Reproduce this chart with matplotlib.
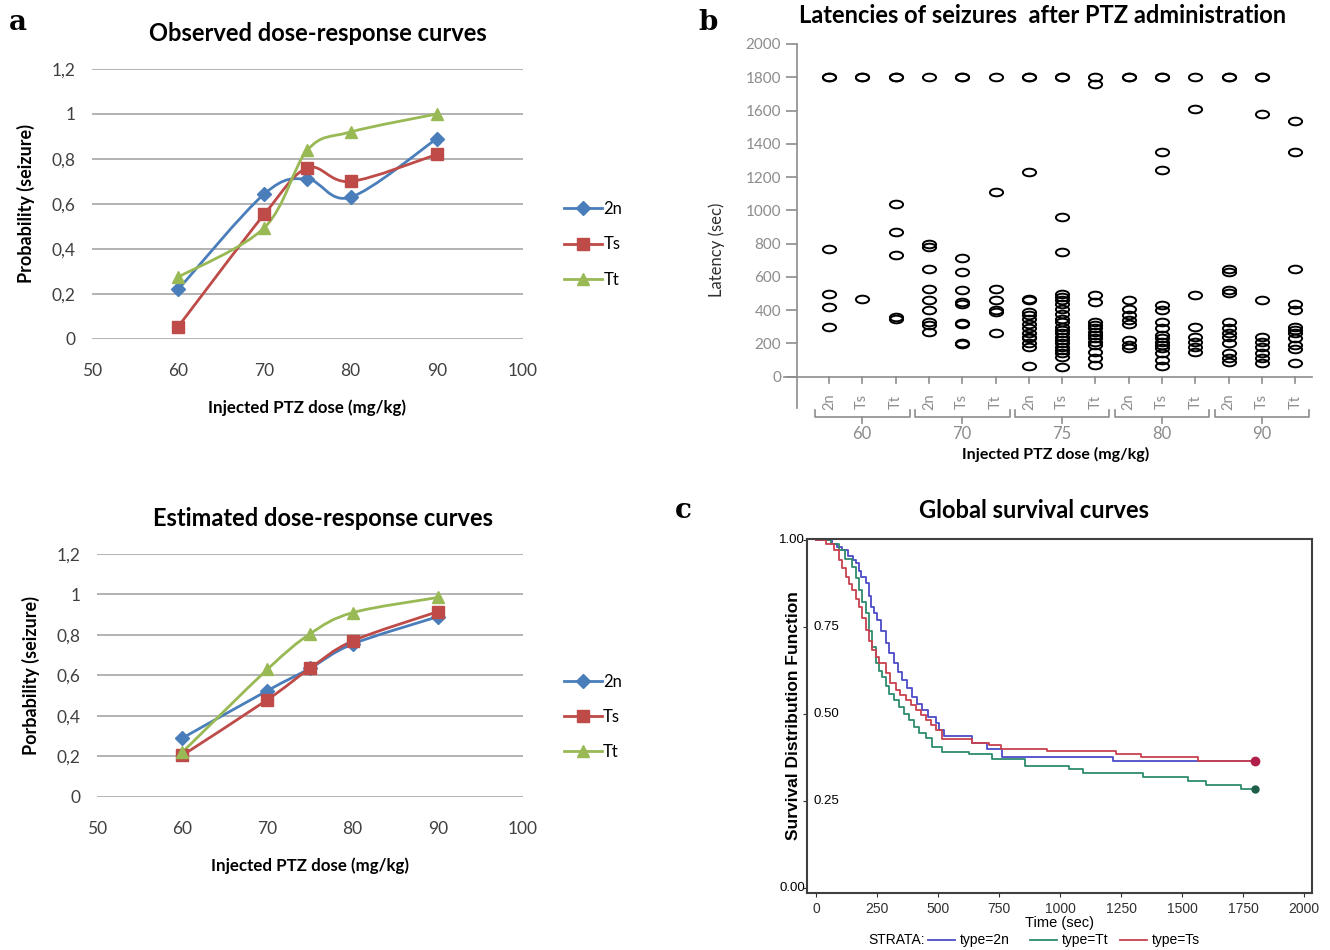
import matplotlib.pyplot as plt
import numpy as np
from matplotlib.path import Path
from matplotlib.patches import PathPatch
from matplotlib.lines import Line2D
from matplotlib.transforms import Affine2D

plt.rcParams['font.family'] = ['Lato', 'DejaVu Sans']

# ---- panel a data -------------------------------------------------------
doses = [60, 70, 75, 80, 90]
types = ["2n", "Ts", "Tt"]

obs_2n = [0.22, 0.645, 0.71, 0.63, 0.89]
obs_ts = [0.055, 0.555, 0.76, 0.70, 0.82]
obs_tt = [0.275, 0.495, 0.84, 0.92, 1.0]

est_2n = [0.29, 0.525, 0.635, 0.755, 0.89]
est_ts = [0.205, 0.48, 0.635, 0.77, 0.915]
est_tt = [0.22, 0.63, 0.805, 0.91, 0.985]

# ---- panel b data: latencies (sec), per dose: [2n, Ts, Tt] --------------
lat_60 = [[1800, 1800, 770, 500, 420, 300],
          [1800, 1800, 470],
          [1800, 1800, 1040, 870, 730, 360, 350]]
lat_70 = [[1800, 800, 780, 650, 530, 460, 400, 330, 310, 270],
          [1800, 1800, 715, 630, 520, 450, 440, 325, 315, 205, 195],
          [1800, 1110, 530, 460, 400, 390, 265]]
lat_75 = [[1800, 1800, 1230, 470, 460, 390, 370, 350, 320, 290, 260, 240,
           230, 200, 180, 65],
          [1800, 1800, 960, 750, 500, 480, 460, 440, 410, 380, 350, 330, 300,
           280, 260, 240, 220, 200, 180, 160, 140, 120, 60],
          [1800, 1760, 490, 450, 330, 310, 290, 270, 250, 230, 210, 190, 150,
           110, 70]]
lat_80 = [[1800, 1800, 460, 410, 370, 340, 320, 220, 190, 175],
          [1800, 1800, 1350, 1240, 430, 400, 330, 290, 250, 230, 210, 190,
           170, 140, 100, 65],
          [1800, 1610, 490, 300, 240, 210, 180, 150]]
lat_90 = [[1800, 1800, 650, 630, 520, 505, 330, 290, 260, 240, 200, 140,
           115, 90],
          [1800, 1800, 1580, 460, 240, 210, 180, 140, 110, 80],
          [1540, 1350, 645, 440, 400, 300, 280, 260, 230, 190, 165, 85]]
latencies = [lat_60, lat_70, lat_75, lat_80, lat_90]

# ---- panel c data: Kaplan-Meier steps (time sec, survival) --------------
km_2n_t = [0, 65, 85, 107, 130, 150, 163, 175, 183, 203, 215, 224, 237, 250,
           265, 285, 300, 319, 335, 353, 372, 394, 412, 435, 460, 490, 505,
           523, 638, 700, 761, 1219, 1800]
km_2n_s = [1.0, 0.99, 0.98, 0.971, 0.955, 0.943, 0.933, 0.91, 0.895, 0.876,
           0.84, 0.808, 0.79, 0.77, 0.74, 0.703, 0.675, 0.646, 0.62, 0.598,
           0.575, 0.549, 0.53, 0.511, 0.492, 0.474, 0.455, 0.437, 0.416, 0.40,
           0.376, 0.366, 0.366]
km_ts_t = [0, 40, 74, 94, 108, 121, 135, 148, 162, 176, 190, 203, 216, 230,
           244, 258, 285, 305, 326, 345, 367, 390, 408, 430, 449, 470, 490,
           517, 640, 710, 760, 946, 1231, 1333, 1566, 1800]
km_ts_s = [1.0, 0.99, 0.971, 0.943, 0.92, 0.895, 0.875, 0.856, 0.83, 0.808,
           0.775, 0.742, 0.71, 0.684, 0.665, 0.646, 0.617, 0.59, 0.569, 0.555,
           0.54, 0.525, 0.511, 0.497, 0.483, 0.468, 0.454, 0.428, 0.418, 0.41,
           0.401, 0.395, 0.385, 0.377, 0.366, 0.366]
km_tt_t = [0, 60, 94, 120, 148, 162, 176, 190, 203, 216, 230, 244, 258, 271,
           285, 298, 320, 340, 360, 380, 400, 421, 449, 475, 517, 626, 721,
           858, 1035, 1096, 1341, 1525, 1600, 1743, 1800]
km_tt_s = [1.0, 0.99, 0.971, 0.945, 0.923, 0.89, 0.856, 0.823, 0.79, 0.74,
           0.693, 0.646, 0.625, 0.607, 0.582, 0.559, 0.54, 0.521, 0.50, 0.483,
           0.464, 0.445, 0.431, 0.406, 0.392, 0.386, 0.370, 0.351, 0.341,
           0.331, 0.318, 0.309, 0.296, 0.284, 0.284]

BLUE, RED, GREEN = "#4a7ebb", "#be4b48", "#98b954"
GRAY = "#8c8c8c"


def smooth_path(x, y):
    # Excel-like smoothed line: Catmull-Rom segments as cubic Bezier
    pts = np.column_stack([x, y]).astype(float)
    n = len(pts)
    verts, codes = [pts[0]], [Path.MOVETO]
    for i in range(n - 1):
        p0 = pts[max(i - 1, 0)]
        p1, p2 = pts[i], pts[i + 1]
        p3 = pts[min(i + 2, n - 1)]
        verts += [p1 + (p2 - p0) / 6, p2 - (p3 - p1) / 6, p2]
        codes += [Path.CURVE4] * 3
    return Path(verts, codes)


def dose_panel(ax, series, title, ylabel, leg_y, title_x):
    styles = [(BLUE, "D", 7), (RED, "s", 8.5), (GREEN, "^", 9)]
    handles = []
    for vals, (col, mk, ms), name in zip(series, styles, types):
        ax.add_patch(PathPatch(smooth_path(doses, vals), fill=False,
                               edgecolor=col, lw=2.0, zorder=3))
        ax.plot(doses, vals, ls="none", marker=mk, ms=ms, color=col, zorder=4)
        handles.append(Line2D([], [], color=col, lw=2.0, marker=mk, ms=ms))
    ax.set_xlim(50, 100)
    ax.set_ylim(0, 1.2)
    ax.set_xticks([50, 60, 70, 80, 90, 100])
    ax.set_yticks(np.arange(0, 1.21, 0.2))
    ax.set_yticklabels(["0", "0,2", "0,4", "0,6", "0,8", "1", "1,2"])
    ax.grid(axis="y", color="#a6a6a6", lw=1.2)
    ax.set_axisbelow(True)
    for s in ax.spines.values():
        s.set_visible(False)
    ax.tick_params(length=0, labelsize=12.5, colors="#404040")
    ax.tick_params(axis="x", pad=17)
    ax.tick_params(axis="y", pad=12)
    ax.set_title(title, fontsize=17, fontweight="bold", pad=20, x=title_x)
    ax.set_ylabel(ylabel, fontsize=13, fontweight="bold", labelpad=12)
    ax.set_xlabel("Injected PTZ dose (mg/kg)", fontsize=12.2,
                  fontweight="bold", labelpad=15)
    ax.legend(handles, types, loc="center left", bbox_to_anchor=(1.08, leg_y),
              frameon=False, fontsize=12, handlelength=2.3,
              handletextpad=0.05, labelspacing=1.15, borderaxespad=0)


fig = plt.figure(figsize=(13.3, 9.5), dpi=100)

ax1 = fig.add_axes([0.0692, 0.6432, 0.3240, 0.2842])
dose_panel(ax1, [obs_2n, obs_ts, obs_tt], "Observed dose-response curves",
           "Probability (seizure)", 0.35, 0.524)

ax2 = fig.add_axes([0.0729, 0.1611, 0.3203, 0.2558])
dose_panel(ax2, [est_2n, est_ts, est_tt], "Estimated dose-response curves",
           "Porbability (seizure)", 0.33, 0.53)

# ---- panel b -------------------------------------------------------------
axb = fig.add_axes([0.5992, 0.5705, 0.3873, 0.3832])
ellipse = Path.unit_circle().transformed(Affine2D().scale(1.0, 0.58))
for di, per_type in enumerate(latencies):
    for ti, vals in enumerate(per_type):
        xi = di * 3 + ti
        axb.plot([xi] * len(vals), vals, ls="none", marker=ellipse, ms=9.5,
                 mfc="none", mec="black", mew=1.4)
axb.set_xlim(-0.96, 14.5)
axb.set_ylim(-188, 2000)
axb.set_yticks(np.arange(0, 2001, 200))
for s in ["top", "right", "bottom"]:
    axb.spines[s].set_visible(False)
axb.spines["left"].set_color(GRAY)
axb.spines["left"].set_linewidth(1.2)
axb.set_xticks([])
axb.tick_params(axis="y", colors=GRAY, length=8, width=1.2, labelsize=11)
axb.axhline(0, xmin=-0.025, color=GRAY, lw=1.2, clip_on=False)
for di, d in enumerate(doses):
    for ti, t in enumerate(types):
        xi = di * 3 + ti
        axb.plot([xi, xi], [0, -40], color=GRAY, lw=1.2, clip_on=False)
        axb.text(xi, -150, t, rotation=90, ha="center", va="center",
                 color=GRAY, fontsize=10.5)
    x0, x1 = di * 3 - 0.42, di * 3 + 2.42
    xc = di * 3 + 1
    axb.plot([x0, x0, x1, x1], [-200, -240, -240, -200], color=GRAY, lw=1.2,
             clip_on=False)
    axb.plot([xc, xc], [-240, -280], color=GRAY, lw=1.2, clip_on=False)
    axb.text(xc, -345, str(d), ha="center", va="center", color=GRAY,
             fontsize=12)
axb.text(6.8, -470, "Injected PTZ dose (mg/kg)", ha="center", va="center",
         fontsize=11.5, fontweight="bold")
axb.set_ylabel("Latency (sec)", fontsize=12, color="#303030")
axb.yaxis.set_label_coords(-0.14, 0.434)
axb.set_title("Latencies of seizures  after PTZ administration", fontsize=17,
              fontweight="bold", pad=15, x=0.476)

# ---- panel c -------------------------------------------------------------
axc = fig.add_axes([0.6068, 0.0600, 0.3797, 0.3726])
curves = [(km_2n_t, km_2n_s, "#4b4bc8"), (km_tt_t, km_tt_s, "#2e8b6e"),
          (km_ts_t, km_ts_s, "#c8414e")]
for t, s, col in curves:
    axc.step(t, s, where="post", color=col, lw=1.3)
axc.plot(km_tt_t[-1], km_tt_s[-1], "o", color="#1f5e4a", ms=5)
axc.plot(km_ts_t[-1], km_ts_s[-1], "o", color="#b0204a", ms=6)
axc.set_xlim(-37, 2033)
axc.set_ylim(-0.014, 1.003)
axc.set_xticks(np.arange(0, 2001, 250))
axc.set_yticks([0, 0.25, 0.5, 0.75, 1.0])
axc.set_yticklabels([])
for s in axc.spines.values():
    s.set_color("#404040")
    s.set_linewidth(1.5)
axc.tick_params(labelsize=10, colors="#303030", length=3)
for v in [0.0, 1.0]:
    axc.text(-0.004, v, "%.2f" % v, transform=axc.get_yaxis_transform(),
             ha="right", va="center", fontsize=9.5, family="Liberation Sans")
for v in [0.25, 0.5, 0.75]:
    axc.text(0.012, v, "%.2f" % v, transform=axc.get_yaxis_transform(),
             ha="left", va="center", fontsize=9.5, family="Liberation Sans")
for lab in axc.get_xticklabels():
    lab.set_family("Liberation Sans")
axc.set_xlabel("Time (sec)", fontsize=10.5, family="Liberation Sans",
               labelpad=0)
axc.set_ylabel("Survival Distribution Function", fontsize=12.5,
               family="Liberation Sans", fontweight="bold", labelpad=-2)
axc.set_title("Global survival curves", fontsize=17, fontweight="bold",
              pad=15, x=0.45)

# legend of panel c
ly = 1 - 940 / 950
fig.text(868 / 1330, ly, "STRATA:", fontsize=10, family="Liberation Sans",
         va="center")
leg_items = [("type=2n", "#4b4bc8", 928), ("type=Tt", "#2e8b6e", 1030),
             ("type=Ts", "#c8414e", 1120)]
for name, col, x0 in leg_items:
    fig.add_artist(Line2D([x0 / 1330, (x0 + 27) / 1330], [ly, ly], color=col,
                          lw=1.3, transform=fig.transFigure))
    fig.text((x0 + 32) / 1330, ly, name, fontsize=10,
             family="Liberation Sans", va="center")

# panel letters
for lab, x, y in [("a", 18, 22), ("b", 708, 22), ("c", 683, 510)]:
    fig.text(x / 1330, 1 - y / 950, lab, fontsize=20, fontweight="bold",
             family="DejaVu Serif", va="center", ha="center")

fig.savefig("out.png", dpi=100)
